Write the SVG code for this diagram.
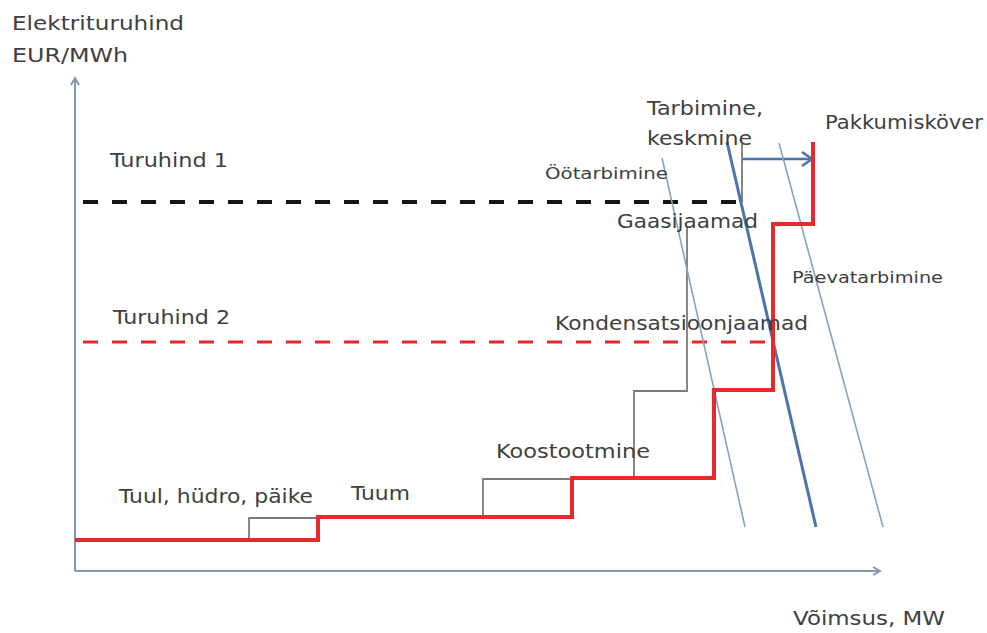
<svg xmlns="http://www.w3.org/2000/svg" width="987" height="633" viewBox="0 0 987 633">
<style>
text{font-family:"DejaVu Sans","Liberation Sans",sans-serif;fill:#404040;}
.t20{font-size:19px;}
.t17{font-size:16px;}
.axis{stroke:#8497b0;stroke-width:2;fill:none;}
.gray{stroke:#7a7a7a;stroke-width:1.8;fill:none;}
.supply{stroke:#e42a2a;stroke-width:4;fill:none;stroke-linejoin:miter;}
.thin{stroke:#86a2c6;stroke-width:1.6;fill:none;}
.avg{stroke:#4a74ad;stroke-width:3;fill:none;}
.dashK{stroke:#151515;stroke-width:4;stroke-dasharray:15 14;fill:none;}
.dashR{stroke:#e8262a;stroke-width:3;stroke-dasharray:15 14;fill:none;}
</style>
<defs>
<marker id="openAxis" markerUnits="userSpaceOnUse" markerWidth="12" markerHeight="12" refX="9" refY="5" orient="auto">
<path d="M2,1 L9,5 L2,9" fill="none" stroke="#8497b0" stroke-width="2"/>
</marker>
<marker id="openBlue" markerUnits="userSpaceOnUse" markerWidth="16" markerHeight="16" refX="12" refY="8" orient="auto">
<path d="M2,1 L12,8 L2,15" fill="none" stroke="#4a74ad" stroke-width="2.5"/>
</marker>
</defs>
<rect width="987" height="633" fill="#ffffff"/>

<g id="connectors">
<path class="axis" d="M75,571 V78" marker-end="url(#openAxis)"/>
<path class="axis" d="M75,571 H880" marker-end="url(#openAxis)"/>
<path d="M742,159 H812" fill="none" stroke="#4a74ad" stroke-width="2.5" marker-end="url(#openBlue)"/>
</g>

<g id="price-lines">
<path class="dashK" d="M83,202 H740"/>
<path class="dashR" d="M83,342 H773"/>
</g>

<g id="plant-steps">
<path class="gray" d="M249,540 V518 H318"/>
<path class="gray" d="M483,517 V479 H572"/>
<path class="gray" d="M634,478 V391 H687 V226"/>
<path class="gray" d="M742,202 V144"/>
</g>

<g id="demand-lines">
<path class="thin" d="M662,158 L745,527"/>
<path class="avg" d="M727,142 L816,527"/>
<path class="thin" d="M779,143 L883,527"/>
</g>

<g id="supply-curve">
<path class="supply" d="M75,540 H318 V517 H572 V478 H714 V390 H773 V224 H813 V142"/>
</g>

<g id="labels">
<g id="y-axis-label">
<text class="t20" x="12" y="30" textLength="172" lengthAdjust="spacingAndGlyphs">Elektrituruhind</text>
<text class="t20" x="12" y="62" textLength="116" lengthAdjust="spacingAndGlyphs">EUR/MWh</text>
</g>
<text id="turuhind1" class="t20" x="110" y="167" textLength="118" lengthAdjust="spacingAndGlyphs">Turuhind 1</text>
<text id="turuhind2" class="t20" x="113" y="324" textLength="117" lengthAdjust="spacingAndGlyphs">Turuhind 2</text>
<g id="tarbimine-label">
<text class="t20" x="647" y="115" textLength="116" lengthAdjust="spacingAndGlyphs">Tarbimine,</text>
<text class="t20" x="647" y="145" textLength="105" lengthAdjust="spacingAndGlyphs">keskmine</text>
</g>
<text id="pakkumiskover" class="t20" x="825" y="129" textLength="158" lengthAdjust="spacingAndGlyphs">Pakkumisköver</text>
<text id="ootarbimine" class="t17" x="545" y="179" textLength="123" lengthAdjust="spacingAndGlyphs">Öötarbimine</text>
<text id="gaasijaamad" class="t20" x="617" y="228" textLength="141" lengthAdjust="spacingAndGlyphs">Gaasijaamad</text>
<text id="paevatarbimine" class="t17" x="792" y="283" textLength="151" lengthAdjust="spacingAndGlyphs">Päevatarbimine</text>
<text id="kondensatsioonjaamad" class="t20" x="555" y="330" textLength="253" lengthAdjust="spacingAndGlyphs">Kondensatsioonjaamad</text>
<text id="koostootmine" class="t20" x="496" y="458" textLength="154" lengthAdjust="spacingAndGlyphs">Koostootmine</text>
<text id="tuul" class="t20" x="119" y="503" textLength="194" lengthAdjust="spacingAndGlyphs">Tuul, hüdro, päike</text>
<text id="tuum" class="t20" x="351" y="500" textLength="59" lengthAdjust="spacingAndGlyphs">Tuum</text>
<text id="x-axis-label" class="t20" x="793" y="625" textLength="152" lengthAdjust="spacingAndGlyphs">Võimsus, MW</text>
</g>
</svg>
